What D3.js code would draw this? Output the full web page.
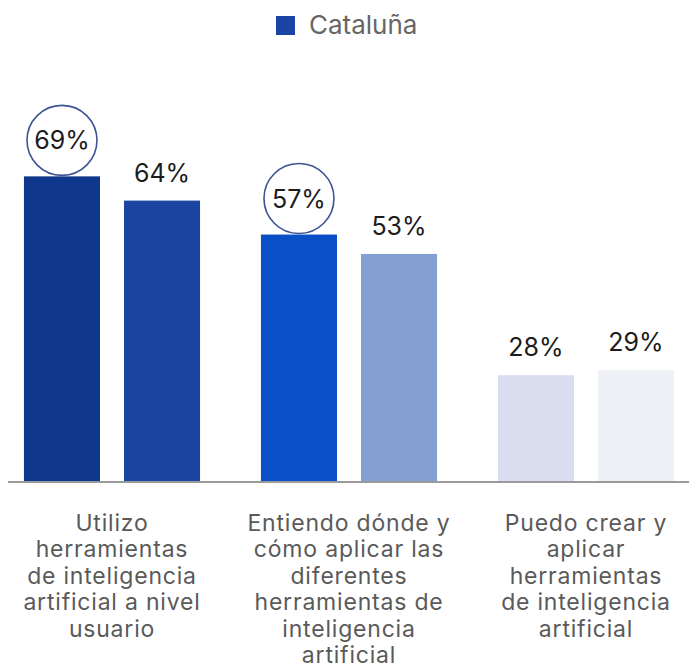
<!DOCTYPE html>
<html><head><meta charset="utf-8">
<script src="https://cdn.jsdelivr.net/npm/d3@7"></script>
<style>body{margin:0;background:#fff}svg{display:block}</style>
</head><body><svg id="c" width="689" height="669"></svg>
<script>
const categories = ["Utilizo", "Entiendo", "Puedo"];
const categoryLabels = [
  ["Utilizo", "herramientas", "de inteligencia", "artificial a nivel", "usuario"],
  ["Entiendo dónde y", "cómo aplicar las", "diferentes", "herramientas de", "inteligencia", "artificial"],
  ["Puedo crear y", "aplicar", "herramientas", "de inteligencia", "artificial"]
];
const seriesKeys = ["s1", "s2"];
const legendLabel = "Cataluña";
const valuesS1 = [69, 57, 28];
const valuesS2 = [64, 53, 29];
const circled = [true, true, false];
const barColors = [["#0f378b", "#1b45a1"], ["#0b4fc6", "#84a0d2"], ["#d9deef", "#edf0f4"]];

const svg = d3.select("#c");
const font = "Inter, 'Noto Sans', sans-serif";
const baseline = 481;

const x0 = d3.scaleBand().domain(categories).range([-6.5, 704.5]).paddingInner(0.257).paddingOuter(0.1285);
const x1 = d3.scaleBand().domain(seriesKeys).range([0, x0.bandwidth()]).paddingInner(0.24);
const y = d3.scaleLinear().domain([0, 100]).range([511, 26]);

const data = categories.map((c, i) => ({
  cat: c, i,
  vals: [{k: "s1", v: valuesS1[i]}, {k: "s2", v: valuesS2[i]}]
}));

const g = svg.append("g");
const groups = g.selectAll("g.grp").data(data).join("g")
  .attr("transform", d => `translate(${x0(d.cat)},0)`);

groups.selectAll("rect").data(d => d.vals.map((v, j) => ({...v, i: d.i, j}))).join("rect")
  .attr("x", d => x1(d.k))
  .attr("y", d => y(d.v))
  .attr("width", x1.bandwidth())
  .attr("height", d => baseline - y(d.v))
  .attr("fill", d => barColors[d.i][d.j]);

groups.selectAll("text.val").data(d => d.vals.map((v, j) => ({...v, i: d.i, j}))).join("text")
  .attr("class", "val")
  .attr("x", d => x1(d.k) + x1.bandwidth() / 2)
  .attr("y", d => y(d.v) - ((d.j === 0 && circled[d.i]) ? 27 : 19))
  .attr("text-anchor", "middle")
  .attr("font-family", font).attr("font-size", 25).attr("fill", "#1c1c1c")
  .text(d => d.v + "%");

groups.filter(d => circled[d.i]).append("circle")
  .attr("cx", x1("s1") + x1.bandwidth() / 2)
  .attr("cy", d => y(valuesS1[d.i]) - 36)
  .attr("r", 35)
  .attr("fill", "none").attr("stroke", "#3d5394").attr("stroke-width", 1.6);

// axis line
svg.append("line").attr("x1", 8).attr("x2", 689).attr("y1", baseline + 1).attr("y2", baseline + 1)
  .attr("stroke", "#9a9a9a").attr("stroke-width", 2);

// category labels
const lab = svg.append("g");
data.forEach(d => {
  const t = lab.append("text")
    .attr("text-anchor", "middle")
    .attr("font-family", font).attr("font-size", 23).attr("letter-spacing", 0.8).attr("fill", "#5a5a5a");
  categoryLabels[d.i].forEach((line, k) => {
    t.append("tspan").attr("x", x0(d.cat) + x0.bandwidth() / 2)
      .attr("y", 531 + k * 26.4).text(line);
  });
});

// legend
const lg = svg.append("g");
lg.append("rect").attr("x", 276).attr("y", 16).attr("width", 19).attr("height", 19).attr("fill", "#1a45a5");
lg.append("text").attr("x", 309).attr("y", 34).attr("font-family", font).attr("font-size", 26)
  .attr("fill", "#666").text(legendLabel);
</script></body></html>
